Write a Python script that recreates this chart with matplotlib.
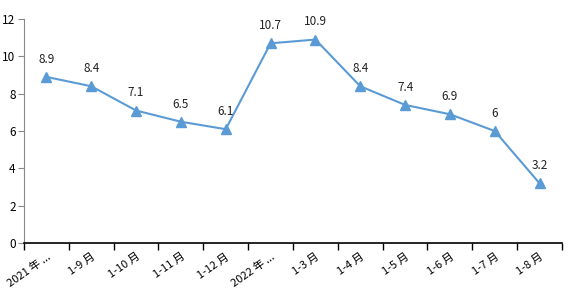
import numpy as np
import matplotlib.pyplot as plt

months = ["2021 年 ...", "1-9 月", "1-10 月", "1-11 月", "1-12 月", "2022 年 ...",
          "1-3 月", "1-4 月", "1-5 月", "1-6 月", "1-7 月", "1-8 月"]
values = [8.9, 8.4, 7.1, 6.5, 6.1, 10.7, 10.9, 8.4, 7.4, 6.9, 6.0, 3.2]
value_labels = ["8.9", "8.4", "7.1", "6.5", "6.1", "10.7", "10.9", "8.4", "7.4", "6.9", "6", "3.2"]

plt.rcParams['font.family'] = ['Noto Sans CJK SC', 'DejaVu Sans']

fig = plt.figure(figsize=(5.81, 3.02), dpi=100)
ax = fig.add_axes([0.0413, 0.195, 0.926, 0.742])

x = np.arange(len(values))
ax.plot(x, values, color='#5B9BD5', linewidth=1.5, marker='^', markersize=6.5)

for xi, v, lab in zip(x, values, value_labels):
    ax.annotate(lab, (xi, v), xytext=(0, 8), textcoords='offset points',
                ha='center', va='bottom', fontsize=8.5, color='#222222')

ax.set_xlim(-0.5, len(values) - 0.5)
ax.set_ylim(0, 12)
ax.set_yticks(range(0, 13, 2))

ax.set_xticks(np.arange(-0.5, len(values)), labels=[])
ax.set_xticks(x, labels=months, minor=True)
ax.tick_params(axis='x', which='major', length=5, width=1, color='black', direction='out')
ax.tick_params(axis='x', which='minor', length=0, pad=6, labelsize=8)
for t in ax.get_xticklabels(minor=True):
    t.set_rotation(35)
    t.set_ha('right')
    t.set_rotation_mode('anchor')

ax.tick_params(axis='y', length=4, color='#888888', labelsize=8.5, pad=2)

for s in ['top', 'right']:
    ax.spines[s].set_visible(False)
ax.spines['left'].set_color('#888888')
ax.spines['bottom'].set_color('black')
ax.spines['bottom'].set_linewidth(1.2)

fig.savefig('out.png', dpi=100)
